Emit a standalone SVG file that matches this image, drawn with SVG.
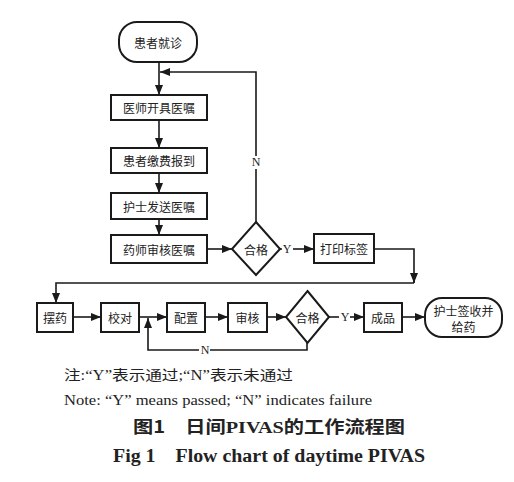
<svg xmlns="http://www.w3.org/2000/svg" width="514" height="482" viewBox="0 0 514 482">
<style>
.n{fill:#fff;stroke:#1a1a1a;stroke-width:2}
.t{font-family:"Noto Sans CJK SC","Noto Sans",sans-serif;font-size:12px;fill:#222;text-anchor:middle;dominant-baseline:central}
.c{fill:none;stroke:#1a1a1a;stroke-width:1.6}
.l{font-family:"Liberation Serif",serif;font-size:12px;fill:#222;text-anchor:middle;dominant-baseline:central}
</style>
<defs>
<marker id="a" viewBox="0 0 10 8" refX="10" refY="4" markerWidth="10" markerHeight="8" markerUnits="userSpaceOnUse" orient="auto">
<path d="M0,0 L10,4 L0,8 Z" fill="#1a1a1a"/>
</marker>
</defs>
<rect width="514" height="482" fill="#fff"/>
<g id="connectors">
<path class="c" d="M159,62 V95" marker-end="url(#a)"/>
<path class="c" d="M159,120 V148" marker-end="url(#a)"/>
<path class="c" d="M159,173 V193" marker-end="url(#a)"/>
<path class="c" d="M159,219 V235" marker-end="url(#a)"/>
<path class="c" d="M207,249 H232" marker-end="url(#a)"/>
<path class="c" d="M256,222 V169"/>
<path class="c" d="M256,156 V72 H160" marker-end="url(#a)"/>
<path class="c" d="M280,249 H282"/>
<path class="c" d="M293,249 H314" marker-end="url(#a)"/>
<path class="c" d="M374,249 H414 V283"/>
<path class="c" d="M414,273 V283" marker-end="url(#a)"/>
<path class="c" d="M414,283 H56 V303" marker-end="url(#a)"/>
<path class="c" d="M73,317 H101" marker-end="url(#a)"/>
<path class="c" d="M139,317 H167" marker-end="url(#a)"/>
<path class="c" d="M205,317 H228" marker-end="url(#a)"/>
<path class="c" d="M267,317 H286" marker-end="url(#a)"/>
<path class="c" d="M307,343 V350 H210"/>
<path class="c" d="M199,350 H148 V318" marker-end="url(#a)"/>
<path class="c" d="M329,317 H339"/>
<path class="c" d="M350,317 H364" marker-end="url(#a)"/>
<path class="c" d="M402,317 H425" marker-end="url(#a)"/>
<text class="l" x="256" y="162">N</text>
<text class="l" x="287" y="249">Y</text>
<text class="l" x="345" y="317">Y</text>
<text class="l" x="205" y="350">N</text>
</g>
<g id="start"><rect class="n" x="119" y="22" width="78" height="40" rx="18"/><text class="t" x="158" y="42">患者就诊</text></g>
<g id="n1"><rect class="n" x="111" y="95" width="96" height="25"/><text class="t" x="159" y="107.5">医师开具医嘱</text></g>
<g id="n2"><rect class="n" x="111" y="148" width="96" height="25"/><text class="t" x="159" y="160.5">患者缴费报到</text></g>
<g id="n3"><rect class="n" x="111" y="193" width="96" height="26"/><text class="t" x="159" y="206">护士发送医嘱</text></g>
<g id="n4"><rect class="n" x="111" y="235" width="96" height="28"/><text class="t" x="159" y="249">药师审核医嘱</text></g>
<g id="d1"><path class="n" d="M256,222 L280,249 L256,275 L232,249 Z"/><text class="t" x="256" y="249">合格</text></g>
<g id="n5"><rect class="n" x="314" y="234" width="60" height="29"/><text class="t" x="344" y="248.5">打印标签</text></g>
<g id="n6"><rect class="n" x="37" y="303" width="36" height="29"/><text class="t" x="55" y="317.5">摆药</text></g>
<g id="n7"><rect class="n" x="101" y="303" width="38" height="29"/><text class="t" x="120" y="317.5">校对</text></g>
<g id="n8"><rect class="n" x="167" y="303" width="38" height="29"/><text class="t" x="186" y="317.5">配置</text></g>
<g id="n9"><rect class="n" x="228" y="303" width="39" height="29"/><text class="t" x="247.5" y="317.5">审核</text></g>
<g id="d2"><path class="n" d="M307.5,291 L329,317 L307.5,343 L286,317 Z"/><text class="t" x="307.5" y="317">合格</text></g>
<g id="n10"><rect class="n" x="364" y="303" width="38" height="29"/><text class="t" x="383" y="317.5">成品</text></g>
<g id="end"><rect class="n" x="425" y="298" width="77" height="39" rx="17"/><text class="t" x="463.5" y="310">护士签收并</text><text class="t" x="463.5" y="326">给药</text></g>
<g id="caption">
<text x="64" y="380" textLength="229" lengthAdjust="spacingAndGlyphs" style="font-family:'Liberation Serif','Noto Sans CJK SC',serif;font-size:14px;fill:#222">注:“Y”表示通过;“N”表示未通过</text>
<text x="64" y="405" textLength="308" lengthAdjust="spacingAndGlyphs" style="font-family:'Liberation Serif',serif;font-size:14px;fill:#222">Note: “Y” means passed; “N” indicates failure</text>
<text x="133" y="433" textLength="272" lengthAdjust="spacingAndGlyphs" style="font-family:'Noto Sans CJK SC',sans-serif;font-size:17px;font-weight:bold;fill:#222">图1　日间<tspan style="font-family:'Liberation Serif',serif">PIVAS</tspan>的工作流程图</text>
<text x="113" y="462" textLength="312" lengthAdjust="spacingAndGlyphs" style="font-family:'Liberation Serif',serif;font-size:18px;font-weight:bold;fill:#222" xml:space="preserve">Fig 1    Flow chart of daytime PIVAS</text>
</g>
</svg>
